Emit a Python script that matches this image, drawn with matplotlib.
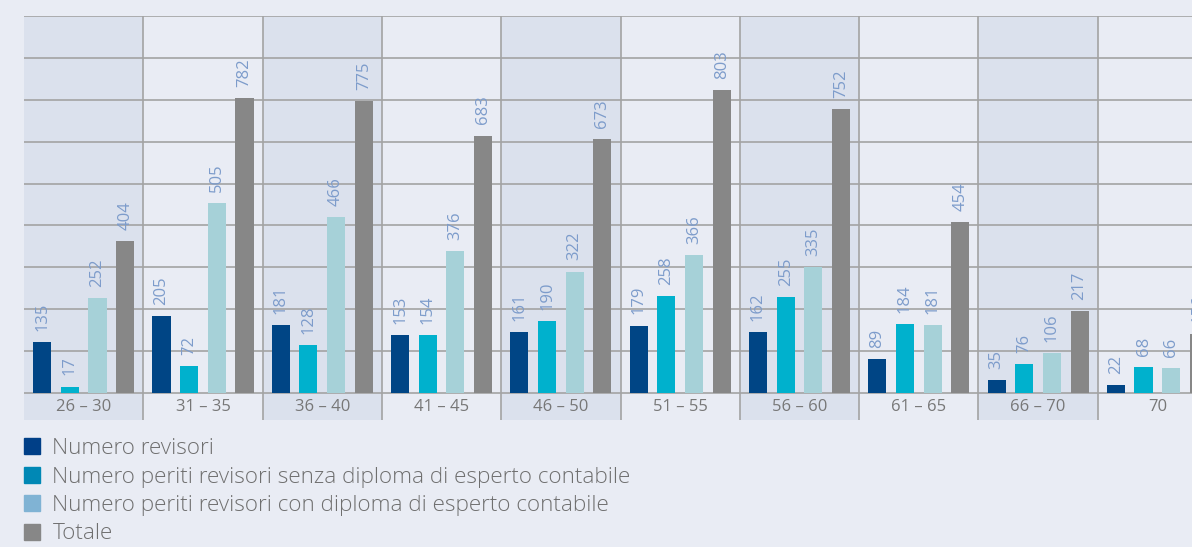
import matplotlib
matplotlib.use('Agg')
import matplotlib.pyplot as plt
from matplotlib.patches import Patch
import numpy as np

plt.rcParams['font.family'] = ['Open Sans', 'DejaVu Sans']

categories = ['26 – 30', '31 – 35', '36 – 40', '41 – 45', '46 – 50',
              '51 – 55', '56 – 60', '61 – 65', '66 – 70', '70']
revisori = [135, 205, 181, 153, 161, 179, 162, 89, 35, 22]
senza_diploma = [17, 72, 128, 154, 190, 258, 255, 184, 76, 68]
con_diploma = [252, 505, 466, 376, 322, 366, 335, 181, 106, 66]
totale = [404, 782, 775, 683, 673, 803, 752, 454, 217, 156]
series_names = ['Numero revisori',
                'Numero periti revisori senza diploma di esperto contabile',
                'Numero periti revisori con diploma di esperto contabile',
                'Totale']

bar_colors = ['#004585', '#00b1cd', '#a6d1d8', '#878787']
legend_colors = ['#003f87', '#0088b5', '#80b3d4', '#878787']
bg = '#e9ecf4'
band = '#dbe1ed'
line = '#a3a3a3'
label_col = '#7d9ccb'

fig = plt.figure(figsize=(11.92, 5.47), dpi=100)
fig.patch.set_facecolor(bg)
ax = fig.add_axes([24 / 1192, 127 / 547, 1168 / 1192, 404 / 547])
ax.set_facecolor(bg)

ymin = -71.6
ax.set_xlim(-0.5, 9.29)
ax.set_ylim(ymin, 1000)

x = np.arange(len(categories))
for i in x:
    if i % 2 == 0:
        ax.axvspan(i - 0.5, i + 0.5, color=band, lw=0, zorder=0)
for i in x[:-1]:
    ax.plot([i + 0.5, i + 0.5], [ymin, 1000], color=line, lw=1.2, zorder=1)
for g in np.linspace(0, 1000, 10):
    ax.axhline(g, color=line, lw=1.2, zorder=1)

width = 0.152
offsets = [-0.348, -0.116, 0.116, 0.348]
for vals, col, off in zip([revisori, senza_diploma, con_diploma, totale], bar_colors, offsets):
    bars = ax.bar(x + off, vals, width, color=col, zorder=2)
    for b, v in zip(bars, vals):
        ax.annotate(str(v), (b.get_x() + b.get_width() / 2, v),
                    xytext=(0, 8), textcoords='offset points',
                    rotation=90, ha='center', va='bottom',
                    fontsize=12, color=label_col, zorder=3,
                    annotation_clip=False)

for i, c in zip(x, categories):
    ax.text(i, ymin / 2, c, ha='center', va='center', fontsize=12, color='#777777')

ax.set_xticks([])
ax.set_yticks([])
for s in ax.spines.values():
    s.set_visible(False)

handles = [Patch(color=c) for c in legend_colors]
fig.legend(handles, series_names, loc='upper left', bbox_to_anchor=(0.02, 0.199),
           frameon=False, prop={'size': 16.2, 'weight': 'light'}, labelcolor='#6f6f6f',
           handlelength=0.72, handleheight=0.72, handletextpad=0.55,
           labelspacing=0.33, borderaxespad=0, borderpad=0)

fig.savefig('out.png', dpi=100, facecolor=bg)
